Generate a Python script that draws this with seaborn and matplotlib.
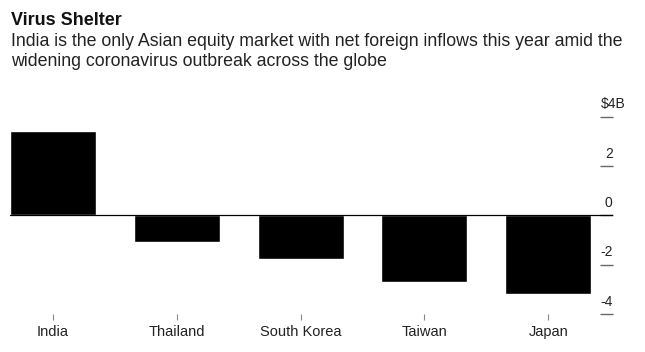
import matplotlib
matplotlib.use("Agg")
import matplotlib.pyplot as plt
import matplotlib.transforms as mtransforms
import seaborn as sns
import pandas as pd

# net foreign inflows into Asian equities, $B
countries = ["India", "Thailand", "South Korea", "Taiwan", "Japan"]
flows = [3.41, -1.08, -1.78, -2.69, -3.18]
ytick_values = [-4, -2, 0, 2, 4]
ytick_labels = ["-4", "-2", "0", "2", "$4B"]

title = "Virus Shelter"
subtitle_1 = "India is the only Asian equity market with net foreign inflows this year amid the"
subtitle_2 = "widening coronavirus outbreak across the globe"

df = pd.DataFrame({"country": countries, "flow": flows})

sns.set_theme(style="white")
plt.rcParams["font.family"] = ["Liberation Sans", "DejaVu Sans"]

fig = plt.figure(figsize=(6.45, 3.52), dpi=100)
ax = fig.add_axes([0.0155, 0.1071, 0.9344, 0.5614])

sns.barplot(data=df, x="country", y="flow", order=countries, color="black",
            saturation=1, width=0.695, ax=ax)
ax.axhline(0, color="black", lw=0.9, zorder=3)

ax.set_xlim(-0.347, 4.52)
ax.set_ylim(-4, 4)
ax.set_xlabel("")
ax.set_ylabel("")
sns.despine(ax=ax, left=True, bottom=True, right=True, top=True)

# y axis on the right, labels sitting above short dashes
ax.yaxis.tick_right()
ax.set_yticks(ytick_values)
ax.set_yticklabels(ytick_labels)
ax.tick_params(axis="y", direction="in", length=9.6, width=1, color="#666666",
               pad=0, labelsize=10, labelcolor="#222222", right=True, left=False)
ax.tick_params(axis="x", direction="out", length=4, width=0.8, color="#888888",
               pad=4, labelsize=10.5, labelcolor="#222222", bottom=True)

up = mtransforms.ScaledTranslation(0, 8.4 / 100, fig.dpi_scale_trans)
nudge = mtransforms.ScaledTranslation(13 / 100, 8.4 / 100, fig.dpi_scale_trans)
for lab in ax.get_yticklabels():
    lab.set_horizontalalignment("right")
    lab.set_verticalalignment("baseline")
    if lab.get_text() == "$4B":
        lab.set_transform(lab.get_transform() + nudge)
    else:
        lab.set_transform(lab.get_transform() + up)

fig.text(0.017, 1 - 25.3 / 352, title, fontsize=13, fontweight="bold",
         color="#111111", va="baseline")
fig.text(0.017, 1 - 45.7 / 352, subtitle_1, fontsize=12.75, color="#222222", va="baseline")
fig.text(0.017, 1 - 66.2 / 352, subtitle_2, fontsize=12.75, color="#222222", va="baseline")

fig.savefig("out.png", dpi=100, facecolor="white")
